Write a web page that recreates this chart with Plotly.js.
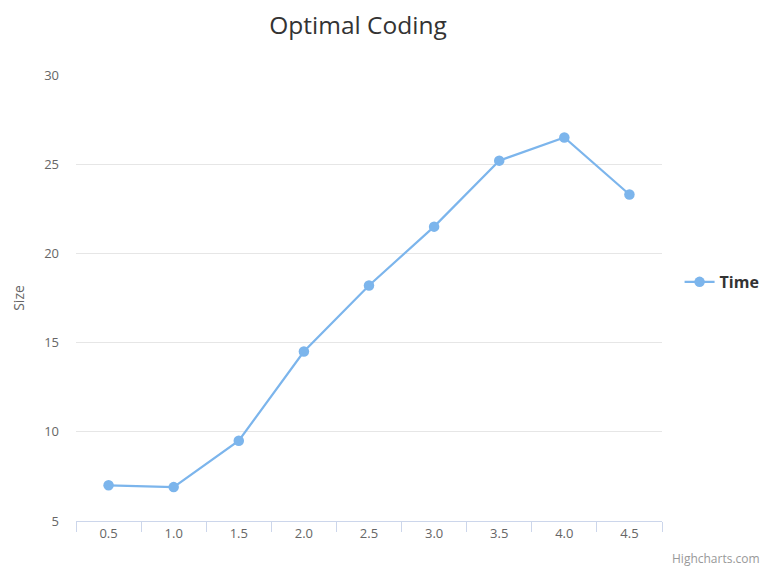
<!DOCTYPE html>
<html>
<head>
<meta charset="utf-8">
<script src="https://cdn.plot.ly/plotly-3.0.1.min.js"></script>
<style>html,body{margin:0;padding:0;background:#fff;}#chart{width:769px;height:568px;}</style>
</head>
<body>
<div id="chart"></div>
<script>
const categories = ["0.5", "1.0", "1.5", "2.0", "2.5", "3.0", "3.5", "4.0", "4.5"];
const timeValues = [7.0, 6.9, 9.5, 14.5, 18.2, 21.5, 25.2, 26.5, 23.3];
const seriesName = "Time";
const yTickVals = [5, 10, 15, 20, 25, 30];

const font = "'Open Sans', 'DejaVu Sans', sans-serif";

const trace = {
  x: categories,
  y: timeValues,
  name: seriesName,
  type: "scatter",
  mode: "lines+markers",
  line: {color: "#7cb5ec", width: 2.2},
  marker: {color: "#7cb5ec", size: 10.5},
  showlegend: true
};

const layout = {
  width: 769,
  height: 568,
  margin: {l: 76, r: 107, t: 75, b: 47, autoexpand: false},
  paper_bgcolor: "#fff",
  plot_bgcolor: "#fff",
  font: {family: font, color: "#666", size: 12},
  title: {
    text: "Optimal Coding",
    font: {family: font, size: 24.5, color: "#333"},
    x: 358 / 769, xanchor: "center", xref: "container",
    y: 1 - 25 / 568, yanchor: "middle", yref: "container"
  },
  xaxis: {
    type: "category",
    range: [-0.5, 8.5],
    tickson: "boundaries",
    ticks: "outside",
    ticklen: 10,
    tickwidth: 1,
    tickcolor: "#ccd6eb",
    showline: true,
    linecolor: "#ccd6eb",
    linewidth: 1,
    showgrid: false,
    zeroline: false,
    tickfont: {family: font, size: 13, color: "#666"},
    fixedrange: true
  },
  yaxis: {
    range: [5, 30],
    tickvals: yTickVals,
    showgrid: true,
    gridcolor: "#e6e6e6",
    gridwidth: 1,
    zeroline: false,
    showline: false,
    ticks: "",
    ticklabelstandoff: 16,
    tickfont: {family: font, size: 13, color: "#666"},
    title: {text: "Size", font: {family: font, size: 14, color: "#666"}, standoff: 16},
    fixedrange: true
  },
  legend: {
    x: 1.03, xanchor: "left",
    y: 0.536, yanchor: "middle",
    font: {family: font, size: 16, color: "#333", weight: "bold"},
    itemwidth: 30,
    bgcolor: "rgba(0,0,0,0)"
  },
  annotations: [{
    text: "Highcharts.com",
    xref: "paper", yref: "paper",
    x: 1 + 100 / 586, xanchor: "right",
    y: -37 / 446, yanchor: "middle",
    showarrow: false,
    font: {family: font, size: 12, color: "#999"}
  }]
};

Plotly.newPlot("chart", [trace], layout, {displayModeBar: false, staticPlot: true});
</script>
</body>
</html>
